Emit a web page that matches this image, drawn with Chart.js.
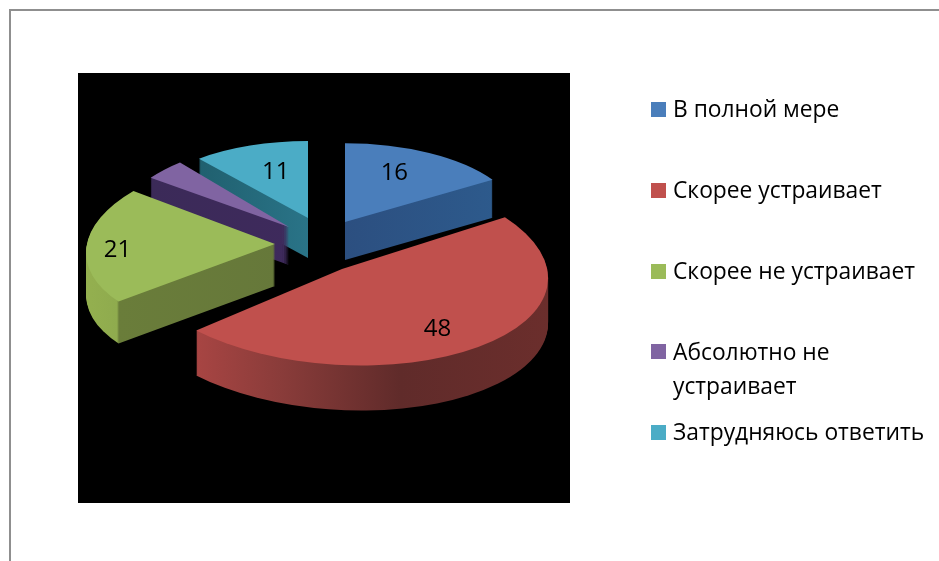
<!DOCTYPE html>
<html>
<head>
<meta charset="utf-8">
<style>html,body{margin:0;padding:0;background:#fff;overflow:hidden}canvas{display:block;filter:blur(0.5px)}</style>
<script src="https://cdn.jsdelivr.net/npm/chart.js@4"></script>
</head>
<body>
<canvas id="c" width="939" height="561"></canvas>
<script>
const categories = ['В полной мере', 'Скорее устраивает', 'Скорее не устраивает', 'Абсолютно не устраивает', 'Затрудняюсь ответить'];
const values = [16, 48, 21, 4, 11];
const shownLabels = ['16', '48', '21', null, '11'];
const legendLines = [['В полной мере'], ['Скорее устраивает'], ['Скорее не устраивает'], ['Абсолютно не', 'устраивает'], ['Затрудняюсь ответить']];
const colors = ['#4a7ebb', '#c0504d', '#9bbb59', '#8064a2', '#4bacc6'];

// 3D look: how each slice is pulled out, sized, flattened and sheared
const center = {x: 320, y: 246};
const pull = [[25, -24], [22, 23], [-45, -2], [-31, -19], [-12, -28]];
const sizeFactor = [0.92, 1.08, 0.99, 0.9, 0.9];
const flatten = [0.45, 0.47, 0.48, 0.49, 0.45];
const shear = [0, 0.2, -0.2, 0, 0];
const depth = [38, 45, 42, 38, 40];
const paintOrder = [0, 4, 3, 2, 1];
const labelNudge = [[-18, 6], [-1, -2], [-7, 4], [0, 0], [14, 12]];
const wallStops = [
  [[345, '#2c4f80'], [495, '#2d5a8c']],
  [[195, '#a84543'], [280, '#8a3c3a'], [400, '#602b2a'], [548, '#6b2e2c']],
  [[85, '#94b04f'], [117, '#8fab4e'], [119, '#6a7d3a'], [280, '#66783a']],
  [[150, '#3b2a58'], [292, '#3e2a5c']],
  [[200, '#20606f'], [310, '#2a7488']]
];

function sliceTransform(ctx, el, i, drop) {
  ctx.translate(center.x + pull[i][0], center.y + pull[i][1] + drop);
  ctx.transform(1, 0, shear[i], 1, 0, 0);
  ctx.scale(sizeFactor[i], sizeFactor[i] * flatten[i]);
  ctx.translate(-el.x, -el.y);
}

const pie3d = {
  id: 'pie3d',
  beforeDraw(chart) {
    const ctx = chart.ctx;
    ctx.save();
    ctx.fillStyle = '#fff';
    ctx.fillRect(0, 0, 939, 561);
    ctx.fillStyle = '#8f8f8f';
    ctx.fillRect(9, 9, 930, 2);
    ctx.fillRect(9, 9, 2, 552);
    ctx.fillStyle = '#000';
    ctx.fillRect(78, 73, 492, 430);
    ctx.restore();
  },
  beforeDatasetsDraw(chart) {
    const ctx = chart.ctx;
    const arcs = chart.getDatasetMeta(0).data;
    paintOrder.forEach(i => {
      const el = arcs[i];
      const stops = wallStops[i];
      const g = ctx.createLinearGradient(stops[0][0], 0, stops[stops.length - 1][0], 0);
      const span = stops[stops.length - 1][0] - stops[0][0];
      stops.forEach(s => g.addColorStop((s[0] - stops[0][0]) / span, s[1]));
      for (let d = depth[i]; d >= 1; d--) {
        ctx.save();
        sliceTransform(ctx, el, i, d);
        ctx.beginPath();
        ctx.moveTo(el.x, el.y);
        ctx.arc(el.x, el.y, el.outerRadius, el.startAngle, el.endAngle);
        ctx.closePath();
        ctx.restore();
        ctx.fillStyle = g;
        ctx.fill();
      }
      ctx.save();
      sliceTransform(ctx, el, i, 0);
      el.draw(ctx);
      ctx.restore();
    });
    return false;
  },
  afterDraw(chart) {
    const ctx = chart.ctx;
    const arcs = chart.getDatasetMeta(0).data;
    ctx.save();
    ctx.fillStyle = '#000';
    ctx.textBaseline = 'middle';
    ctx.textAlign = 'center';
    ctx.font = '24px "Open Sans"';
    arcs.forEach((el, i) => {
      if (shownLabels[i] === null) return;
      const mid = (el.startAngle + el.endAngle) / 2;
      const r = el.outerRadius * 0.8 * sizeFactor[i];
      const x = center.x + pull[i][0] + Math.cos(mid) * r + labelNudge[i][0];
      const y = center.y + pull[i][1] + Math.sin(mid) * r * flatten[i] + labelNudge[i][1];
      ctx.fillText(shownLabels[i], x, y);
    });
    // legend
    ctx.textAlign = 'left';
    ctx.font = '22.8px "Open Sans"';
    legendLines.forEach((lines, i) => {
      const y = 110 + i * 80.75;
      ctx.fillStyle = colors[i];
      ctx.fillRect(651, Math.round(y) - 8, 15, 15);
      ctx.fillStyle = '#000';
      lines.forEach((t, j) => ctx.fillText(t, 673, y + 1 + j * 34));
    });
    ctx.restore();
  }
};

new Chart(document.getElementById('c'), {
  type: 'pie',
  data: {
    labels: categories,
    datasets: [{ data: values, backgroundColor: colors, borderWidth: 0, radius: 190, clip: false }]
  },
  options: {
    responsive: false,
    animation: false,
    layout: { padding: 0 },
    plugins: { legend: { display: false }, tooltip: { enabled: false } }
  },
  plugins: [pie3d]
});
</script>
</body>
</html>
